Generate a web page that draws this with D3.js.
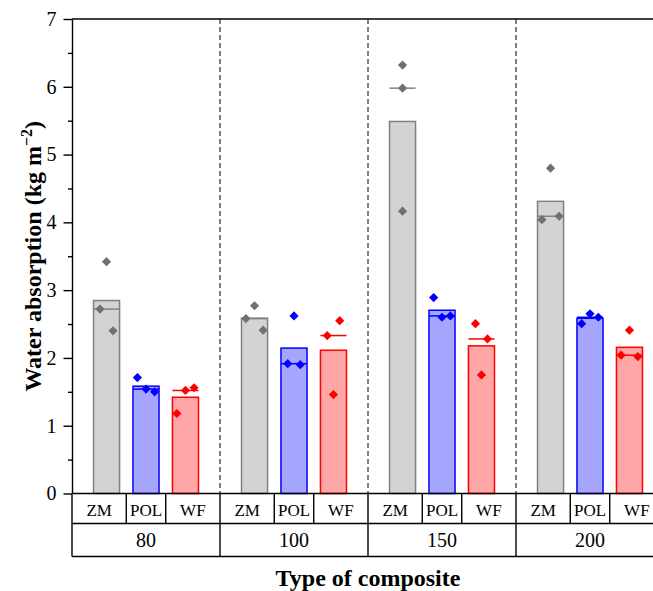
<!DOCTYPE html>
<html>
<head>
<meta charset="utf-8">
<script src="https://cdn.jsdelivr.net/npm/d3@7"></script>
<style>
  body { margin: 0; background: #fff; }
  svg text { font-family: "Liberation Serif", "Tinos", "DejaVu Serif", serif; }
</style>
</head>
<body>
<div id="chart"></div>
<script>
// composite groups and fibre types
const groups = ["80", "100", "150", "200"];
const types = ["ZM", "POL", "WF"];

// replicate measurements (kg m-2), per group, ordered left to right as plotted
const zmValues = [[2.72, 3.42, 2.40], [2.58, 2.77, 2.41], [6.32, 5.98, 4.165], [4.04, 4.80, 4.09]];
const polValues = [[1.71, 1.54, 1.50], [1.915, 2.62, 1.90], [2.89, 2.60, 2.62], [2.505, 2.65, 2.60]];
const wfValues = [[1.18, 1.52, 1.56], [2.33, 1.46, 2.55], [2.505, 1.75, 2.28], [2.04, 2.41, 2.02]];

// horizontal jitter of the replicate points (fraction of bar width)
const zmJitter = [0.25, 0.33, 0, 0.33];
const polJitter = [0.33, 0.24, 0.32, 0.32];
const wfJitter = [0.33, 0.24, 0.23, 0.32];

const yTicks = [0, 1, 2, 3, 4, 5, 6, 7];

const series = {
    ZM: {values: zmValues, jitter: zmJitter, fill: "#d3d3d3", stroke: "#808080", point: "#707070"},
    POL: {values: polValues, jitter: polJitter, fill: "#a6a6ff", stroke: "#0000ff", point: "#0000ff"},
    WF: {values: wfValues, jitter: wfJitter, fill: "#ffa6a6", stroke: "#ff0000", point: "#ff0000"}
};

const FONT = "'Liberation Serif', Tinos, 'DejaVu Serif', serif";

const W = 653, H = 591;
const margin = {top: 19, left: 72};
const plotW = 592, plotH = 474.5;
const row1 = 30, row2 = 33;

const svg = d3.select("#chart").append("svg")
    .attr("width", W)
    .attr("height", H)
    .attr("font-family", FONT);

const g = svg.append("g")
    .attr("transform", `translate(${margin.left},${margin.top})`);

const y = d3.scaleLinear().domain([0, 7]).range([plotH, 0]);
const xGroup = d3.scaleBand().domain(groups).range([0, plotW]).padding(0);
const xType = d3.scaleBand().domain(types).range([0, xGroup.bandwidth()])
    .paddingInner(0.34).paddingOuter(0.545);

// dashed separators between groups
g.selectAll(".sep")
    .data(groups.slice(1))
    .enter().append("line")
    .attr("class", "sep")
    .attr("x1", d => xGroup(d)).attr("x2", d => xGroup(d))
    .attr("y1", 0).attr("y2", plotH)
    .attr("stroke", "#000")
    .attr("stroke-width", 1)
    .attr("stroke-dasharray", "5,3");

// flatten data
let cells = [];
groups.forEach((grp, gi) => {
    types.forEach(t => {
        const vals = series[t].values[gi];
        cells.push({
            group: grp, type: t, vals: vals,
            mean: d3.mean(vals), median: d3.median(vals),
            jitter: series[t].jitter[gi]
        });
    });
});

const bw = xType.bandwidth();
const xLeft = d => xGroup(d.group) + xType(d.type);

// bars
g.selectAll(".bar")
    .data(cells)
    .enter().append("rect")
    .attr("class", "bar")
    .attr("x", d => xLeft(d))
    .attr("y", d => y(d.mean))
    .attr("width", bw)
    .attr("height", d => y(0) - y(d.mean))
    .attr("fill", d => series[d.type].fill)
    .attr("stroke", d => series[d.type].stroke)
    .attr("stroke-width", 1.5);

// median lines
g.selectAll(".median")
    .data(cells)
    .enter().append("line")
    .attr("class", "median")
    .attr("x1", d => xLeft(d))
    .attr("x2", d => xLeft(d) + bw)
    .attr("y1", d => y(d.median))
    .attr("y2", d => y(d.median))
    .attr("stroke", d => series[d.type].stroke)
    .attr("stroke-width", 1.5);

// replicate points
const diamond = "M0,-4.6L4.6,0L0,4.6L-4.6,0Z";
cells.forEach(c => {
    g.selectAll(null)
        .data(c.vals)
        .enter().append("path")
        .attr("d", diamond)
        .attr("fill", series[c.type].point)
        .attr("transform", (v, i) => {
            const cx = xLeft(c) + bw / 2 + (i - 1) * c.jitter * bw;
            return `translate(${cx},${y(v)})`;
        });
});

// y axis
const yAxis = g.append("g")
    .call(d3.axisLeft(y).tickValues(yTicks).tickFormat(d3.format("d"))
        .tickSize(8.5).tickSizeOuter(0).tickPadding(7))
    .attr("font-family", FONT)
    .attr("font-size", 20);
yAxis.select(".domain").attr("stroke-width", 1.4);
yAxis.selectAll(".tick line").attr("stroke-width", 1.4);
yAxis.selectAll("text").attr("fill", "#000");

const minor = d3.range(0.5, 7, 1);
g.append("g")
    .call(d3.axisLeft(y).tickValues(minor).tickFormat("").tickSize(4).tickSizeOuter(0))
    .call(s => s.select(".domain").remove())
    .selectAll(".tick line").attr("stroke-width", 1.4);

// top frame
g.append("line")
    .attr("x1", 0).attr("x2", plotW)
    .attr("y1", 0).attr("y2", 0)
    .attr("stroke", "#000").attr("stroke-width", 1.4);

// category table below the axis
const table = g.append("g").attr("transform", `translate(0,${plotH})`);
const lw = 1.4;
[0, row1, row1 + row2].forEach(yy => {
    table.append("line")
        .attr("x1", 0).attr("x2", plotW)
        .attr("y1", yy).attr("y2", yy)
        .attr("stroke", "#000").attr("stroke-width", lw);
});
table.selectAll(".gsep")
    .data(groups)
    .enter().append("line")
    .attr("x1", d => xGroup(d)).attr("x2", d => xGroup(d))
    .attr("y1", 0).attr("y2", row1 + row2)
    .attr("stroke", "#000").attr("stroke-width", lw);

const step = xType.step();
cells.filter(c => c.type !== "WF").forEach(c => {
    const bx = xLeft(c) + bw / 2 + step / 2;
    table.append("line")
        .attr("x1", bx).attr("x2", bx)
        .attr("y1", 0).attr("y2", row1)
        .attr("stroke", "#000").attr("stroke-width", lw);
});

// type labels, centred in their cells
cells.forEach(c => {
    const cx = xLeft(c) + bw / 2;
    const gx = xGroup(c.group);
    let x0 = c.type === "ZM" ? gx : cx - step / 2;
    let x1 = c.type === "WF" ? gx + xGroup.bandwidth() : cx + step / 2;
    table.append("text")
        .attr("x", (x0 + x1) / 2)
        .attr("y", 22)
        .attr("text-anchor", "middle")
        .style("font-size", "17px")
        .text(c.type);
});

table.selectAll(".glabel")
    .data(groups)
    .enter().append("text")
    .attr("x", d => xGroup(d) + xGroup.bandwidth() / 2)
    .attr("y", row1 + 23.5)
    .attr("text-anchor", "middle")
    .style("font-size", "20px")
    .text(d => d);

// axis titles
svg.append("text")
    .attr("x", margin.left + plotW / 2)
    .attr("y", 586)
    .attr("text-anchor", "middle")
    .style("font-size", "24px")
    .style("font-weight", "bold")
    .text("Type of composite");

const yTitle = svg.append("text")
    .attr("transform", `translate(41,${margin.top + plotH / 2}) rotate(-90)`)
    .attr("text-anchor", "middle")
    .style("font-size", "24px")
    .style("font-weight", "bold");
yTitle.append("tspan").text("Water absorption (kg m");
yTitle.append("tspan").attr("dy", -9).style("font-size", "16px").text("\u22122");
yTitle.append("tspan").attr("dy", 9).text(")");
</script>
</body>
</html>
